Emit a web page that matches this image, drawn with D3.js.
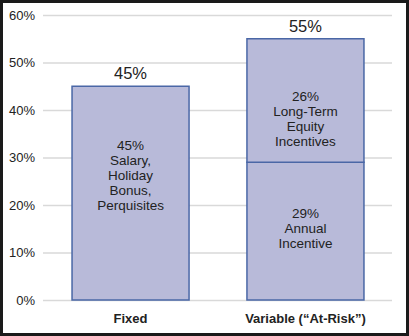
<!DOCTYPE html>
<html><head><meta charset="utf-8">
<script src="https://cdn.jsdelivr.net/npm/d3@7"></script>
<style>html,body{margin:0;padding:0;background:#fff}svg{display:block}</style>
</head><body>
<svg id="c" width="409" height="336"></svg>
<script>
const categories = ["Fixed", "Variable (\u201CAt-Risk\u201D)"];
const segStart = [0, 0, 29];
const segValue = [45, 29, 26];
const segCategory = ["Fixed", "Variable (\u201CAt-Risk\u201D)", "Variable (\u201CAt-Risk\u201D)"];
const segLabels = [
  ["45%", "Salary,", "Holiday", "Bonus,", "Perquisites"],
  ["29%", "Annual", "Incentive"],
  ["26%", "Long-Term", "Equity", "Incentives"]
];
const totals = [45, 55];
const yTicks = [0, 10, 20, 30, 40, 50, 60];

const svg = d3.select("#c");
const font = "Arial, 'Liberation Sans', Helvetica, sans-serif";
const y = d3.scaleLinear().domain([0, 60]).range([300, 15]);
const x = d3.scaleBand().domain(categories).range([43, 393]).paddingInner(0.331).paddingOuter(0.166);

// frame
svg.append("rect").attr("x", 1.5).attr("y", 1.5).attr("width", 406).attr("height", 333)
  .attr("fill", "#fff").attr("stroke", "#1a1a1a").attr("stroke-width", 3);

// grid
const ax = svg.append("g").attr("transform", "translate(43,0)")
  .call(d3.axisLeft(y).tickValues(yTicks).tickFormat(d => d + "%").tickSize(-349).tickPadding(8));
ax.select(".domain").remove();
ax.selectAll(".tick line").attr("stroke", "#d9d9d9").attr("stroke-width", 1.5);
ax.selectAll(".tick text").attr("font-family", font).attr("font-size", 13).attr("fill", "#222");

// bars
svg.selectAll("rect.seg").data(segValue).join("rect").attr("class", "seg")
  .attr("x", (d, i) => x(segCategory[i]))
  .attr("width", x.bandwidth())
  .attr("y", (d, i) => y(segStart[i] + d))
  .attr("height", (d, i) => y(segStart[i]) - y(segStart[i] + d))
  .attr("fill", "#b8bad9").attr("stroke", "#4a67a6").attr("stroke-width", 1.5);

// segment labels
const labelShift = [-18, -3, 18];
segLabels.forEach((lines, i) => {
  const cy = (y(segStart[i]) + y(segStart[i] + segValue[i])) / 2 + labelShift[i];
  const t = svg.append("text").attr("text-anchor", "middle")
    .attr("font-family", font).attr("font-size", 13.5).attr("fill", "#222");
  const lh = 15;
  const top = cy - (lines.length - 1) * lh / 2;
  lines.forEach((l, j) => {
    t.append("tspan").attr("x", x(segCategory[i]) + x.bandwidth() / 2)
      .attr("y", top + j * lh).attr("dy", "0.35em").text(l);
  });
});

// totals
svg.selectAll("text.tot").data(totals).join("text").attr("class", "tot")
  .attr("x", (d, i) => x(categories[i]) + x.bandwidth() / 2)
  .attr("y", d => y(d) - 7)
  .attr("text-anchor", "middle").attr("font-family", font).attr("font-size", 16.5).attr("fill", "#222")
  .text(d => d + "%");

// category labels
svg.selectAll("text.cat").data(categories).join("text").attr("class", "cat")
  .attr("x", d => x(d) + x.bandwidth() / 2).attr("y", 323)
  .attr("text-anchor", "middle").attr("font-family", font).attr("font-size", 13)
  .attr("font-weight", "bold").attr("fill", "#222").text(d => d);
</script>
</body></html>
